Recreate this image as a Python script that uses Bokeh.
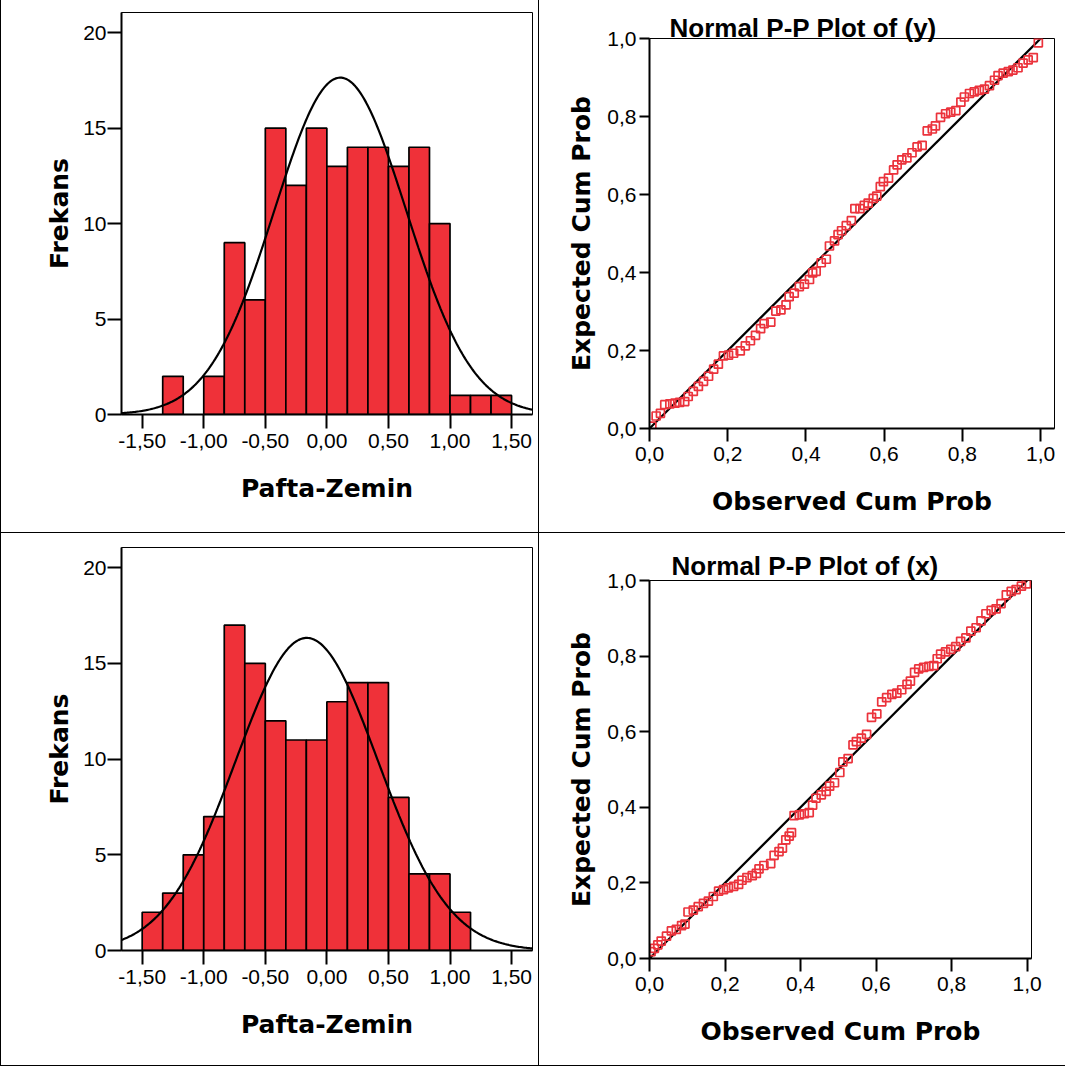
import numpy as np
from bokeh.plotting import figure
from bokeh.layouts import column, row
from bokeh.models import FixedTicker, Range1d
from bokeh.embed import file_html
from bokeh.resources import INLINE

# ---------------- data ----------------
bin_width = 1.0 / 6.0
hist_y_start = -4.0 / 3.0
hist_y_counts = [2, 0, 2, 9, 6, 15, 12, 15, 13, 14, 14, 13, 14, 10, 1, 1, 1]
hist_x_start = -1.5
hist_x_counts = [2, 3, 5, 7, 17, 15, 12, 11, 11, 13, 14, 14, 8, 4, 4, 2]
fit_y_mean, fit_y_sd, fit_y_n = 0.109, 0.535, 142
fit_x_mean, fit_x_sd, fit_x_n = -0.163, 0.578, 142

hist_ticks = [-1.5, -1.0, -0.5, 0.0, 0.5, 1.0, 1.5]
hist_tick_labels = ["-1,50", "-1,00", "-0,50", "0,00", "0,50", "1,00", "1,50"]
freq_ticks = [0, 5, 10, 15, 20]
freq_tick_labels = ["0", "5", "10", "15", "20"]
pp_ticks = [0.0, 0.2, 0.4, 0.6, 0.8, 1.0]
pp_tick_labels = ["0,0", "0,2", "0,4", "0,6", "0,8", "1,0"]

pp_y_obs = [0.006, 0.017, 0.028, 0.039, 0.052, 0.065, 0.077, 0.090, 0.099, 0.112,
            0.125, 0.138, 0.151, 0.164, 0.176, 0.189, 0.202, 0.215, 0.232, 0.245,
            0.258, 0.271, 0.284, 0.293, 0.310, 0.323, 0.336, 0.349, 0.357, 0.370,
            0.383, 0.396, 0.409, 0.417, 0.426, 0.439, 0.452, 0.460, 0.473, 0.482,
            0.491, 0.503, 0.516, 0.525, 0.538, 0.549, 0.559, 0.572, 0.581, 0.590,
            0.598, 0.611, 0.624, 0.633, 0.645, 0.658, 0.671, 0.684, 0.697, 0.710,
            0.723, 0.731, 0.744, 0.757, 0.770, 0.783, 0.796, 0.805, 0.818, 0.830,
            0.843, 0.856, 0.869, 0.882, 0.891, 0.904, 0.917, 0.929, 0.942, 0.955,
            0.968, 0.981, 0.994]
pp_y_exp = [0.006, 0.032, 0.039, 0.061, 0.063, 0.065, 0.067, 0.069, 0.082, 0.095,
            0.108, 0.121, 0.134, 0.152, 0.165, 0.186, 0.188, 0.193, 0.199, 0.212,
            0.225, 0.239, 0.256, 0.269, 0.273, 0.301, 0.304, 0.317, 0.338, 0.347,
            0.364, 0.370, 0.382, 0.399, 0.403, 0.425, 0.434, 0.468, 0.481, 0.497,
            0.507, 0.520, 0.533, 0.564, 0.564, 0.572, 0.578, 0.590, 0.596, 0.620,
            0.633, 0.642, 0.663, 0.676, 0.689, 0.694, 0.707, 0.722, 0.726, 0.763,
            0.768, 0.776, 0.798, 0.807, 0.811, 0.815, 0.837, 0.850, 0.859, 0.863,
            0.867, 0.870, 0.879, 0.893, 0.905, 0.911, 0.915, 0.919, 0.925, 0.937,
            0.945, 0.951, 0.989]

pp_x_obs = [0.004, 0.013, 0.022, 0.031, 0.045, 0.058, 0.071, 0.085, 0.094, 0.102,
            0.116, 0.129, 0.143, 0.156, 0.169, 0.183, 0.196, 0.209, 0.223, 0.236,
            0.245, 0.258, 0.272, 0.283, 0.290, 0.303, 0.321, 0.330, 0.343, 0.352,
            0.361, 0.370, 0.376, 0.383, 0.397, 0.410, 0.423, 0.432, 0.441, 0.455,
            0.468, 0.477, 0.490, 0.504, 0.512, 0.526, 0.539, 0.548, 0.561, 0.575,
            0.588, 0.602, 0.615, 0.628, 0.642, 0.655, 0.668, 0.682, 0.691, 0.702,
            0.713, 0.726, 0.740, 0.753, 0.762, 0.771, 0.784, 0.798, 0.811, 0.824,
            0.838, 0.851, 0.865, 0.878, 0.891, 0.905, 0.918, 0.931, 0.945, 0.958,
            0.971, 0.985, 0.998]
pp_x_exp = [0.018, 0.027, 0.036, 0.046, 0.059, 0.073, 0.077, 0.087, 0.091, 0.123,
            0.128, 0.137, 0.146, 0.152, 0.164, 0.178, 0.182, 0.187, 0.191, 0.196,
            0.207, 0.214, 0.219, 0.225, 0.237, 0.246, 0.251, 0.273, 0.283, 0.292,
            0.314, 0.324, 0.333, 0.378, 0.380, 0.383, 0.386, 0.406, 0.424, 0.433,
            0.442, 0.456, 0.465, 0.492, 0.520, 0.529, 0.565, 0.574, 0.583, 0.593,
            0.638, 0.647, 0.679, 0.690, 0.699, 0.702, 0.711, 0.725, 0.734, 0.757,
            0.766, 0.770, 0.773, 0.775, 0.793, 0.805, 0.811, 0.818, 0.825, 0.839,
            0.848, 0.866, 0.875, 0.893, 0.912, 0.921, 0.925, 0.939, 0.962, 0.971,
            0.976, 0.985, 0.991]

# ---------------- styling ----------------
BAR_RED = "#ef3139"
MARK_RED = "#eb333c"
TICK_FONT = "Liberation Sans"
LABEL_FONT = "DejaVu Sans"


def style_axes(p, xt_len, yt_len):
    for ax in (p.xaxis[0], p.yaxis[0]):
        ax.axis_line_width = 2
        ax.axis_line_color = "black"
        ax.major_tick_line_width = 2
        ax.major_tick_line_color = "black"
        ax.major_tick_in = 0
        ax.minor_tick_line_color = None
        ax.major_label_text_font = TICK_FONT
        ax.major_label_text_font_size = "21px"
        ax.major_label_text_color = "black"
        ax.axis_label_text_font = LABEL_FONT
        ax.axis_label_text_font_style = "bold"
        ax.axis_label_text_font_size = "25px"
        ax.axis_label_text_color = "black"
    p.xaxis[0].major_tick_out = xt_len
    p.yaxis[0].major_tick_out = yt_len
    p.xaxis[0].major_label_standoff = 5
    p.xaxis[0].axis_label_standoff = 23
    p.xgrid.visible = False
    p.ygrid.visible = False
    p.outline_line_color = "black"
    p.outline_line_width = 1
    p.background_fill_color = "white"
    p.border_fill_color = "white"


def hist_fig(counts, start, mean, sd, n, width, height, borders, css):
    p = figure(width=width, height=height,
               x_range=Range1d(-1.668, 1.670), y_range=Range1d(0, 21.06),
               output_backend="svg", toolbar_location=None, frame_align=False,
               min_border_left=borders[0], min_border_right=borders[1],
               min_border_top=borders[2], min_border_bottom=borders[3],
               styles=css)
    lefts = [start + i * bin_width for i in range(len(counts))]
    rights = [l + bin_width for l in lefts]
    keep = [i for i, c in enumerate(counts) if c > 0]
    p.quad(left=[lefts[i] for i in keep], right=[rights[i] for i in keep],
           bottom=0, top=[counts[i] for i in keep],
           fill_color=BAR_RED, line_color="black", line_width=1.7)
    xs = np.linspace(-1.668, 1.670, 300)
    ys = n * bin_width / (sd * np.sqrt(2 * np.pi)) * np.exp(-0.5 * ((xs - mean) / sd) ** 2)
    p.line(xs, ys, line_color="black", line_width=2.2)
    style_axes(p, 14, 14)
    p.xaxis[0].ticker = FixedTicker(ticks=hist_ticks)
    p.xaxis[0].major_label_overrides = dict(zip(hist_ticks, hist_tick_labels))
    p.yaxis[0].ticker = FixedTicker(ticks=freq_ticks)
    p.yaxis[0].major_label_overrides = dict(zip(freq_ticks, freq_tick_labels))
    p.yaxis[0].major_label_standoff = 1
    p.yaxis[0].axis_label_standoff = 6
    p.xaxis[0].axis_label = "Pafta-Zemin"
    p.yaxis[0].axis_label = "Frekans"
    return p


def pp_fig(obs, exp, xmax, title, t_offset, t_standoff, width, height, borders, css):
    p = figure(width=width, height=height,
               x_range=Range1d(0, xmax), y_range=Range1d(0, 1.0),
               output_backend="svg", toolbar_location=None, frame_align=False,
               min_border_left=borders[0], min_border_right=borders[1],
               min_border_top=borders[2], min_border_bottom=borders[3],
               title=title, styles=css)
    p.title.align = "left"
    p.title.offset = t_offset
    p.title.standoff = t_standoff
    p.title.text_font = "Liberation Sans"
    p.title.text_font_style = "bold"
    p.title.text_font_size = "26px"
    p.title.text_color = "black"
    p.line([0, 1], [0, 1], line_color="black", line_width=2.2)
    p.scatter(obs, exp, marker="square", size=8, fill_color=None,
              line_color=MARK_RED, line_width=1.7)
    style_axes(p, 13, 10)
    p.xaxis[0].ticker = FixedTicker(ticks=pp_ticks)
    p.xaxis[0].major_label_overrides = dict(zip(pp_ticks, pp_tick_labels))
    p.yaxis[0].ticker = FixedTicker(ticks=pp_ticks)
    p.yaxis[0].major_label_overrides = dict(zip(pp_ticks, pp_tick_labels))
    p.yaxis[0].major_label_standoff = 3
    p.yaxis[0].axis_label_standoff = 8
    p.xaxis[0].axis_label = "Observed Cum Prob"
    p.yaxis[0].axis_label = "Expected Cum Prob"
    return p


p_tl = hist_fig(hist_y_counts, hist_y_start, fit_y_mean, fit_y_sd, fit_y_n,
                539, 533, (120, 8, 12, 119),
                {"border-left": "1px solid black", "border-right": "1px solid black",
                 "border-bottom": "1px solid black"})
p_tr = pp_fig(pp_y_obs, pp_y_exp, 1.0353, "Normal P-P Plot of (y)", 20, -9,
              526, 533, (110, 11, 38, 105), {"border-bottom": "1px solid black"})
p_bl = hist_fig(hist_x_counts, hist_x_start, fit_x_mean, fit_x_sd, fit_x_n,
                539, 533, (120, 8, 14, 116),
                {"border-left": "1px solid black", "border-right": "1px solid black",
                 "border-bottom": "1px solid black"})
p_br = pp_fig(pp_x_obs, pp_x_exp, 1.0117, "Normal P-P Plot of (x)", 22, 0,
              526, 533, (110, 34, 47, 108), {"border-bottom": "1px solid black"})

layout = column(row(p_tl, p_tr, spacing=0), row(p_bl, p_br, spacing=0), spacing=0)

open("out.html", "w").write(file_html(layout, INLINE))
